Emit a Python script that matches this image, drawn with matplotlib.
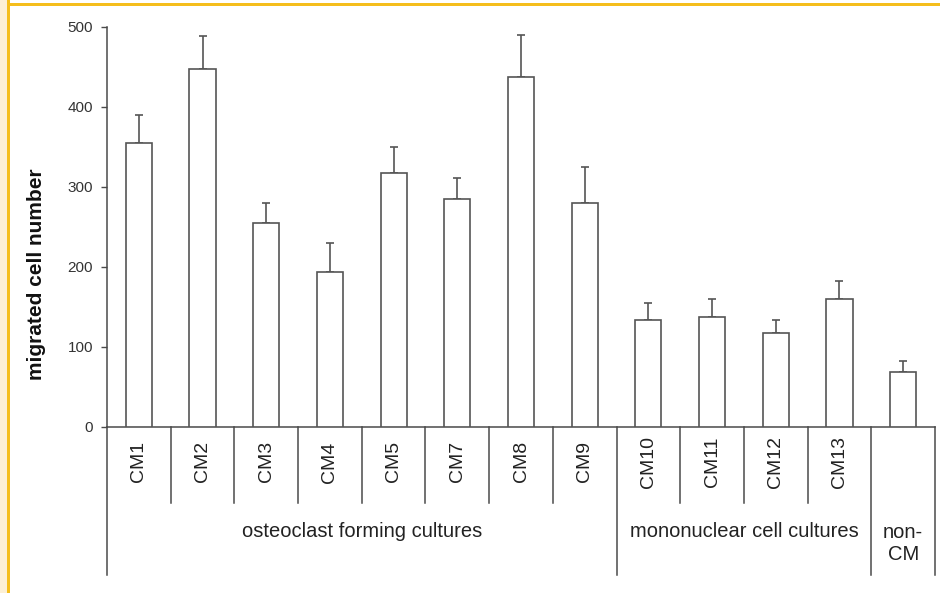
import matplotlib
matplotlib.use("Agg")
import matplotlib.pyplot as plt
from matplotlib.patches import Rectangle
from matplotlib.lines import Line2D
import numpy as np

plt.rcParams['font.family'] = ['Liberation Sans', 'DejaVu Sans']

categories = ["CM1", "CM2", "CM3", "CM4", "CM5", "CM7", "CM8", "CM9",
              "CM10", "CM11", "CM12", "CM13", "non-CM"]
means = [354, 447, 255, 193, 317, 285, 437, 279, 134, 137, 117, 160, 69]
errors = [36, 41, 24, 36, 32, 26, 52, 45, 21, 22, 16, 22, 13]
groups = ["osteoclast forming cultures", "mononuclear cell cultures", "non-\nCM"]
group_sizes = [8, 4, 1]
yticks = [0, 100, 200, 300, 400, 500]

W, H = 940, 593
fig = plt.figure(figsize=(W / 100, H / 100), dpi=100)
fig.patch.set_facecolor("white")

# frame decoration
fig.add_artist(Rectangle((0, 0), 7 / W, 1, transform=fig.transFigure,
                         facecolor="#FDF0D4", edgecolor="none"))
fig.add_artist(Rectangle((7 / W, 0), 3.2 / W, 1, transform=fig.transFigure,
                         facecolor="#F5BE1C", edgecolor="none"))
fig.add_artist(Rectangle((7 / W, 1 - 6 / H), 1, 3 / H, transform=fig.transFigure,
                         facecolor="#F5BE1C", edgecolor="none"))

x0, x1 = 107, 935
y0, y1 = 426.7, 26.7
ax = fig.add_axes([x0 / W, (H - y0) / H, (x1 - x0) / W, (y0 - y1) / H])
ax.set_facecolor("none")

n = len(categories)
x = np.arange(n)
line_c = "#4a4a4a"
ax.bar(x, means, width=0.41, facecolor="white", edgecolor="#555555", linewidth=1.2, zorder=3)
ax.errorbar(x, means, yerr=[np.zeros(n), errors], fmt="none", ecolor="#555555",
            elinewidth=1.2, capsize=3, capthick=1.2, zorder=2)

ax.set_xlim(-0.5, n - 0.5)
ax.set_ylim(0, 500)
ax.set_yticks(yticks)
ax.tick_params(axis="y", direction="out", length=4, width=1, color=line_c,
               labelsize=11, labelcolor="#333333", pad=6)
ax.set_xticks([])
for s in ["top", "right", "bottom"]:
    ax.spines[s].set_visible(False)
ax.spines["left"].set_color(line_c)
ax.spines["left"].set_linewidth(1.1)

ax.set_ylabel("migrated cell number", fontsize=15, fontweight="bold", color="#111111")
ax.yaxis.set_label_coords(-0.074, 0.382)

# table-like category axis
ax.add_line(Line2D([-0.5, n - 0.5], [0, 0], color=line_c, lw=1.1, clip_on=False))
short_bottom = -95
long_bottom = -185
bounds = np.cumsum([0] + group_sizes) - 0.5
for b in np.arange(-0.5, n):
    bottom = long_bottom if np.any(np.isclose(bounds, b)) else short_bottom
    ax.add_line(Line2D([b, b], [0, bottom], color=line_c, lw=1.1, clip_on=False))

for xi, c in zip(x, categories[:-1]):
    ax.text(xi, -44, c, rotation=90, ha="center", va="center", fontsize=14,
            color="#222222", clip_on=False)

centers = [(bounds[i] + bounds[i + 1]) / 2 for i in range(len(groups))]
for gx, g in zip(centers, groups):
    gy = -146 if "\n" in g else -131
    ax.text(gx, gy, g, ha="center", va="center", fontsize=14.5, color="#222222",
            linespacing=1.2, clip_on=False)

fig.savefig("out.png", dpi=100)
